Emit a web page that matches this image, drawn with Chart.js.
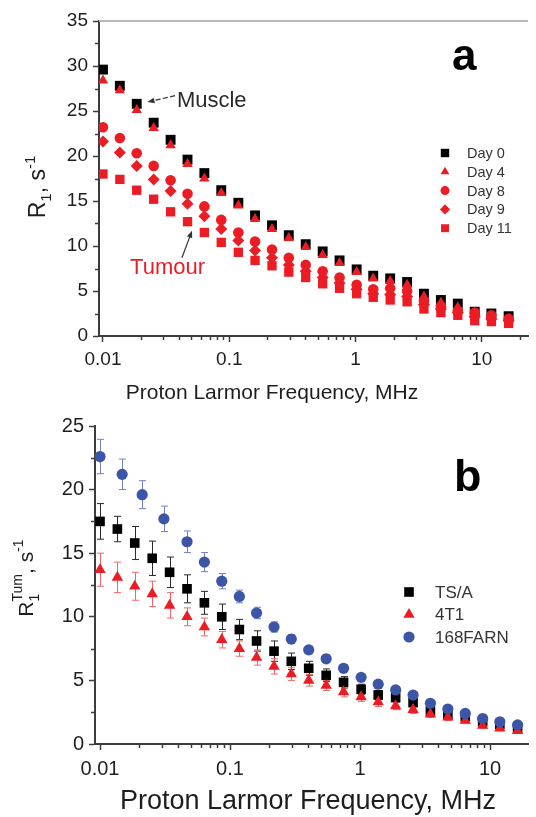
<!DOCTYPE html>
<html>
<head>
<meta charset="utf-8">
<title>R1 dispersion</title>
<script src="https://cdn.jsdelivr.net/npm/chart.js@4.4.1/dist/chart.umd.min.js"></script>
<style>
  html, body { margin: 0; padding: 0; background: #fff; }
  #wrap { width: 536px; height: 817px; }
  canvas { display: block; }
</style>
</head>
<body>
<div id="wrap">
  <canvas id="chartA" width="536" height="408"></canvas>
  <canvas id="chartB" width="536" height="409"></canvas>
</div>
<script>
// ---- data ----

// proton Larmor frequencies, MHz
const freq = [0.01, 0.0136, 0.0185, 0.0252, 0.0343, 0.0467, 0.0635, 0.0864, 0.118, 0.160,
              0.218, 0.296, 0.403, 0.549, 0.747, 1.02, 1.38, 1.88, 2.56, 3.48,
              4.74, 6.45, 8.78, 11.9, 16.3];
// the 168FARN set was measured on a slightly different low-field grid
const freqFarn = [0.01, 0.0148, 0.0211, 0.031, 0.0467, 0.0635, 0.0864, 0.118, 0.160,
                  0.218, 0.296, 0.403, 0.549, 0.747, 1.02, 1.38, 1.88, 2.56, 3.48,
                  4.74, 6.45, 8.78, 11.9, 16.3];

// panel a: R1, s^-1
const day0  = [29.6, 27.8, 25.8, 23.7, 21.8, 19.6, 18.1, 16.2, 14.8, 13.4, 12.3, 11.2, 10.2, 9.4, 8.4, 7.4, 6.7, 6.4, 6.0, 4.7, 4.0, 3.6, 2.7, 2.5, 2.2];
const day4  = [28.4, 27.3, 25.1, 23.1, 21.2, 19.1, 17.5, 15.9, 14.5, 13.0, 11.9, 10.9, 9.9, 9.0, 8.1, 7.1, 6.4, 6.1, 5.7, 4.4, 3.7, 3.2, 2.5, 2.2, 1.9];
const day8  = [23.2, 22.0, 20.3, 18.9, 17.3, 15.8, 14.4, 12.9, 11.5, 10.5, 9.6, 8.7, 7.9, 7.2, 6.5, 5.7, 5.2, 5.3, 5.0, 3.9, 3.3, 2.8, 2.6, 2.3, 1.9];
const day9  = [21.6, 20.4, 18.9, 17.4, 16.1, 14.7, 13.3, 11.9, 10.6, 9.5, 8.7, 7.9, 7.2, 6.5, 5.9, 5.2, 4.7, 4.6, 4.4, 3.5, 3.0, 2.6, 2.1, 1.9, 1.7];
const day11 = [18.0, 17.4, 16.2, 15.2, 13.8, 12.7, 11.5, 10.4, 9.3, 8.4, 7.8, 7.1, 6.5, 5.8, 5.3, 4.7, 4.3, 4.0, 3.8, 3.0, 2.6, 2.3, 1.7, 1.6, 1.4];

// panel b: R1^Tum, s^-1 with error bars
const tsa     = [17.5, 16.9, 15.8, 14.6, 13.5, 12.2, 11.1, 10.0, 9.0, 8.1, 7.3, 6.5, 5.95, 5.4, 4.85, 4.3, 3.85, 3.65, 3.25, 2.6, 2.3, 2.15, 1.75, 1.55, 1.25];
const tsaErr  = [1.4, 1.0, 1.3, 1.35, 1.2, 1.1, 0.9, 1.0, 0.8, 0.8, 0.8, 0.65, 0.55, 0.5, 0.45, 0.4, 0.35, 0.35, 0.3, 0.3, 0.25, 0.25, 0.2, 0.2, 0.2];
const t41     = [13.7, 13.1, 12.4, 11.8, 10.9, 10.0, 9.2, 8.2, 7.5, 6.8, 6.1, 5.5, 5.0, 4.6, 4.1, 3.7, 3.3, 3.0, 2.7, 2.35, 2.1, 1.85, 1.45, 1.25, 1.05];
const t41Err  = [1.3, 1.2, 1.1, 1.0, 1.0, 0.7, 0.7, 0.65, 0.6, 0.6, 0.6, 0.5, 0.45, 0.4, 0.4, 0.35, 0.35, 0.3, 0.3, 0.25, 0.25, 0.2, 0.2, 0.2, 0.2];
const farn    = [22.6, 21.2, 19.6, 17.7, 15.9, 14.3, 12.8, 11.6, 10.3, 9.2, 8.25, 7.4, 6.7, 5.95, 5.24, 4.7, 4.25, 3.85, 3.2, 2.75, 2.4, 2.0, 1.75, 1.5];
const farnErr = [1.35, 1.2, 1.1, 1.0, 0.85, 0.75, 0.6, 0.5, 0.45, 0.4, 0.35, 0.3, 0.3, 0.25, 0.25, 0.2, 0.2, 0.2, 0.2, 0.15, 0.15, 0.15, 0.15, 0.15];

// axes
const xTickVals   = [0.01, 0.1, 1, 10];
const xTickLabels = ['0.01', '0.1', '1', '10'];
const yTicksA      = [0, 5, 10, 15, 20, 25, 30, 35];
const yTickLabelsA = ['0', '5', '10', '15', '20', '25', '30', '35'];
const yTicksB      = [0, 5, 10, 15, 20, 25];
const yTickLabelsB = ['0', '5', '10', '15', '20', '25'];

// ---- styling ----
const FONT = '"Liberation Sans", Arial, Helvetica, sans-serif';
const AXIS = '#3c3c3c';
const RED = '#ec1c24';
const BLUE = '#3d55a6';

function pts(xs, ys) { return xs.map((x, i) => ({ x: x, y: ys[i] })); }

// --- error bars, drawn under the markers ---
const errorBarPlugin = {
  id: 'errorBars',
  beforeDatasetsDraw(chart) {
    const { ctx, scales: { x, y } } = chart;
    chart.data.datasets.forEach(ds => {
      if (!ds.errorBars) return;
      ctx.save();
      ctx.strokeStyle = ds.errorColor;
      ctx.lineWidth = 1;
      ctx.beginPath();
      ds.data.forEach((p, j) => {
        const e = ds.errorBars[j];
        const px = Math.round(x.getPixelForValue(p.x)) + 0.5;
        const top = y.getPixelForValue(p.y + e);
        const bot = y.getPixelForValue(p.y - e);
        ctx.moveTo(px, top); ctx.lineTo(px, bot);
        ctx.moveTo(px - 3.5, top); ctx.lineTo(px + 3.5, top);
        ctx.moveTo(px - 3.5, bot); ctx.lineTo(px + 3.5, bot);
      });
      ctx.stroke();
      ctx.restore();
    });
  }
};

function drawMarker(ctx, ds, x, y, scale) {
  ctx.fillStyle = ds.backgroundColor;
  const r = ds.pointRadius * scale;
  if (Chart.helpers && Chart.helpers.drawPoint) {
    Chart.helpers.drawPoint(ctx, { pointStyle: ds.pointStyle, radius: r, rotation: 0, borderWidth: 0 }, x, y);
  } else {
    ctx.beginPath(); ctx.arc(x, y, r, 0, Math.PI * 2); ctx.fill();
  }
}

function drawArrow(ctx, x0, y0, x1, y1, dashed) {
  const ang = Math.atan2(y1 - y0, x1 - x0);
  ctx.save();
  ctx.strokeStyle = '#333';
  ctx.fillStyle = '#333';
  ctx.lineWidth = 1.2;
  if (dashed) ctx.setLineDash([5, 2.5]);
  ctx.beginPath();
  ctx.moveTo(x0, y0);
  ctx.lineTo(x1 - 5 * Math.cos(ang), y1 - 5 * Math.sin(ang));
  ctx.stroke();
  ctx.setLineDash([]);
  ctx.beginPath();
  ctx.moveTo(x1, y1);
  ctx.lineTo(x1 - 7 * Math.cos(ang) + 2.8 * Math.sin(ang), y1 - 7 * Math.sin(ang) - 2.8 * Math.cos(ang));
  ctx.lineTo(x1 - 7 * Math.cos(ang) - 2.8 * Math.sin(ang), y1 - 7 * Math.sin(ang) + 2.8 * Math.cos(ang));
  ctx.closePath();
  ctx.fill();
  ctx.restore();
}

// text runs (for sub/superscripts), rotated to read bottom-to-top
function drawRotatedRuns(ctx, runs, cx, cy) {
  let adv = 0, prevStart = 0;
  const items = runs.map(r => {
    ctx.font = `${r.size}px ${FONT}`;
    const w = ctx.measureText(r.t).width;
    let start;
    if (r.stack) { start = prevStart; adv = Math.max(adv, start + w); }
    else { start = adv; adv += w; }
    prevStart = start;
    return Object.assign({ start: start }, r);
  });
  ctx.save();
  ctx.translate(cx, cy);
  ctx.rotate(-Math.PI / 2);
  ctx.fillStyle = '#1e1e1e';
  ctx.textBaseline = 'alphabetic';
  ctx.textAlign = 'left';
  items.forEach(it => {
    ctx.font = `${it.size}px ${FONT}`;
    ctx.fillText(it.t, it.start - adv / 2, it.dy || 0);
  });
  ctx.restore();
}

// --- axis decoration, titles, legend, labels ---
const decorPlugin = {
  id: 'decor',
  afterDraw(chart, args, o) {
    const { ctx, chartArea: ca, scales: { x, y } } = chart;
    ctx.save();

    if (o.topBorder) {
      ctx.strokeStyle = '#b9b9b9';
      ctx.lineWidth = 2;
      ctx.beginPath();
      ctx.moveTo(ca.left, ca.top); ctx.lineTo(ca.right, ca.top);
      ctx.stroke();
    }

    // minor ticks
    ctx.strokeStyle = AXIS;
    ctx.lineWidth = 1.5;
    ctx.beginPath();
    for (let e = -3; e <= 2; e++) {
      for (let m = 2; m <= 9; m++) {
        const v = m * Math.pow(10, e);
        if (v < x.min || v > x.max) continue;
        const px = Math.round(x.getPixelForValue(v)) + 0.5;
        ctx.moveTo(px, ca.bottom + 1); ctx.lineTo(px, ca.bottom + 4);
      }
    }
    for (let i = 0; i < o.yTicks.length - 1; i++) {
      const py = Math.round(y.getPixelForValue((o.yTicks[i] + o.yTicks[i + 1]) / 2)) + 0.5;
      ctx.moveTo(ca.left - 1, py); ctx.lineTo(ca.left - 4, py);
    }
    ctx.stroke();

    // x title
    ctx.fillStyle = '#1e1e1e';
    ctx.font = `${o.xTitle.size}px ${FONT}`;
    ctx.textAlign = 'center';
    ctx.textBaseline = 'alphabetic';
    ctx.fillText(o.xTitle.text, o.xTitle.x, o.xTitle.y);

    // y title
    drawRotatedRuns(ctx, o.yTitle.runs, o.yTitle.x, o.yTitle.y);

    // panel letter
    ctx.font = `bold ${o.letter.size}px ${FONT}`;
    ctx.textAlign = 'left';
    ctx.fillStyle = '#000';
    ctx.fillText(o.letter.t, o.letter.x, o.letter.y);

    // legend
    const lg = o.legend;
    chart.data.datasets.forEach((ds, i) => {
      const ly = lg.y0 + i * lg.dy;
      drawMarker(ctx, ds, lg.x, ly, lg.markerScale);
      ctx.fillStyle = '#333';
      ctx.font = `${lg.size}px ${FONT}`;
      ctx.textAlign = 'left';
      ctx.textBaseline = 'middle';
      ctx.fillText(ds.label, lg.textX, ly + 1);
    });

    // annotations in data coordinates
    (o.notes || []).forEach(n => {
      ctx.fillStyle = n.color;
      ctx.font = `${n.size}px ${FONT}`;
      ctx.textAlign = 'left';
      ctx.textBaseline = 'alphabetic';
      ctx.fillText(n.text, x.getPixelForValue(n.x), y.getPixelForValue(n.y));
    });
    (o.arrows || []).forEach(a => {
      drawArrow(ctx, x.getPixelForValue(a.from[0]), y.getPixelForValue(a.from[1]),
                x.getPixelForValue(a.to[0]), y.getPixelForValue(a.to[1]), a.dashed);
    });

    ctx.restore();
  }
};

function axes(opt) {
  return {
    x: {
      type: 'logarithmic',
      min: opt.xMin, max: opt.xMax,
      afterBuildTicks: s => { s.ticks = xTickVals.map(v => ({ value: v })); },
      afterFit: s => { s.height = opt.xHeight; },
      grid: { display: true, drawOnChartArea: false, drawTicks: true, tickLength: 6, tickColor: AXIS, tickWidth: 1.5 },
      border: { display: true, color: AXIS, width: 2 },
      ticks: {
        autoSkip: false, maxRotation: 0, padding: opt.xPad, color: '#1e1e1e',
        font: { family: FONT, size: opt.tickSize },
        callback: (v, i) => xTickLabels[i]
      }
    },
    y: {
      type: 'linear',
      min: opt.yTicks[0], max: opt.yTicks[opt.yTicks.length - 1],
      afterBuildTicks: s => { s.ticks = opt.yTicks.map(v => ({ value: v })); },
      afterFit: s => { s.width = opt.yWidth; },
      grid: { display: true, drawOnChartArea: false, drawTicks: true, tickLength: 6, tickColor: AXIS, tickWidth: 1.5 },
      border: { display: true, color: AXIS, width: 2 },
      ticks: {
        padding: 5, color: '#1e1e1e',
        font: { family: FONT, size: opt.tickSize },
        callback: (v, i) => opt.yLabels[i]
      }
    }
  };
}

// ---- panel a ----
new Chart(document.getElementById('chartA'), {
  type: 'scatter',
  data: {
    datasets: [
      { label: 'Day 0',  data: pts(freq, day0),  pointStyle: 'rect',     pointRadius: 7.0, backgroundColor: '#000', borderColor: '#000', pointBorderWidth: 0, order: 5 },
      { label: 'Day 4',  data: pts(freq, day4),  pointStyle: 'triangle', pointRadius: 6.0, backgroundColor: RED, borderColor: RED, pointBorderWidth: 0, order: 1 },
      { label: 'Day 8',  data: pts(freq, day8),  pointStyle: 'circle',   pointRadius: 5.3, backgroundColor: RED, borderColor: RED, pointBorderWidth: 0, order: 2 },
      { label: 'Day 9',  data: pts(freq, day9),  pointStyle: 'rectRot',  pointRadius: 6.0, backgroundColor: RED, borderColor: RED, pointBorderWidth: 0, order: 3 },
      { label: 'Day 11', data: pts(freq, day11), pointStyle: 'rect',     pointRadius: 6.6, backgroundColor: RED, borderColor: RED, pointBorderWidth: 0, order: 4 }
    ]
  },
  options: {
    responsive: false,
    animation: false,
    events: [],
    layout: { padding: { left: 0, right: 8, top: 21, bottom: 0 } },
    scales: axes({ xMin: 0.0093, xMax: 23.2, yTicks: yTicksA, yLabels: yTickLabelsA, xHeight: 72, yWidth: 99, tickSize: 19, xPad: 6 }),
    plugins: {
      legend: { display: false },
      tooltip: { enabled: false },
      decor: {
        topBorder: true,
        yTicks: yTicksA,
        xTitle: { text: 'Proton Larmor Frequency, MHz', size: 21, x: 272, y: 399 },
        yTitle: {
          x: 45, y: 187,
          runs: [
            { t: 'R', size: 23 },
            { t: '1', size: 15, dy: 6 },
            { t: ', s', size: 23 },
            { t: '-1', size: 15, dy: -10 }
          ]
        },
        letter: { t: 'a', size: 44, x: 452, y: 70 },
        legend: { x: 445, textX: 467, y0: 153, dy: 18.8, size: 14.5, markerScale: 0.85 },
        notes: [
          { text: 'Muscle', color: '#2a2a2a', size: 22, x: 0.0385, y: 25.5 },
          { text: 'Tumour', color: RED, size: 22, x: 0.0164, y: 6.9 }
        ],
        arrows: [
          { from: [0.0372, 26.7], to: [0.0225, 26.0], dashed: true },
          { from: [0.0422, 8.7], to: [0.0507, 11.7], dashed: false }
        ]
      }
    }
  },
  plugins: [errorBarPlugin, decorPlugin]
});

// ---- panel b ----
new Chart(document.getElementById('chartB'), {
  type: 'scatter',
  data: {
    datasets: [
      { label: 'TS/A',    data: pts(freq, tsa),      errorBars: tsaErr,  errorColor: '#2a2a2a', pointStyle: 'rect',     pointRadius: 6.8, backgroundColor: '#000', borderColor: '#000', pointBorderWidth: 0, order: 3 },
      { label: '4T1',     data: pts(freq, t41),      errorBars: t41Err,  errorColor: '#f0666b', pointStyle: 'triangle', pointRadius: 6.6, backgroundColor: RED, borderColor: RED, pointBorderWidth: 0, order: 2 },
      { label: '168FARN', data: pts(freqFarn, farn), errorBars: farnErr, errorColor: '#6f80c6', pointStyle: 'circle',   pointRadius: 5.6, backgroundColor: BLUE, borderColor: BLUE, pointBorderWidth: 0, order: 1 }
    ]
  },
  options: {
    responsive: false,
    animation: false,
    events: [],
    layout: { padding: { left: 0, right: 8, top: 18, bottom: 0 } },
    scales: axes({ xMin: 0.00915, xMax: 19.6, yTicks: yTicksB, yLabels: yTickLabelsB, xHeight: 73, yWidth: 95, tickSize: 20, xPad: 7 }),
    plugins: {
      legend: { display: false },
      tooltip: { enabled: false },
      decor: {
        topBorder: false,
        yTicks: yTicksB,
        xTitle: { text: 'Proton Larmor Frequency, MHz', size: 27, x: 308, y: 401 },
        yTitle: {
          x: 33, y: 170,
          runs: [
            { t: 'R', size: 21 },
            { t: '1', size: 14, dy: 6 },
            { t: 'Tum', size: 14, dy: -11, stack: true },
            { t: ', s', size: 21 },
            { t: '-1', size: 14, dy: -10 }
          ]
        },
        letter: { t: 'b', size: 45, x: 454, y: 83 },
        legend: { x: 409, textX: 435, y0: 184, dy: 22.5, size: 17, markerScale: 1 }
      }
    }
  },
  plugins: [errorBarPlugin, decorPlugin]
});
</script>
</body>
</html>
